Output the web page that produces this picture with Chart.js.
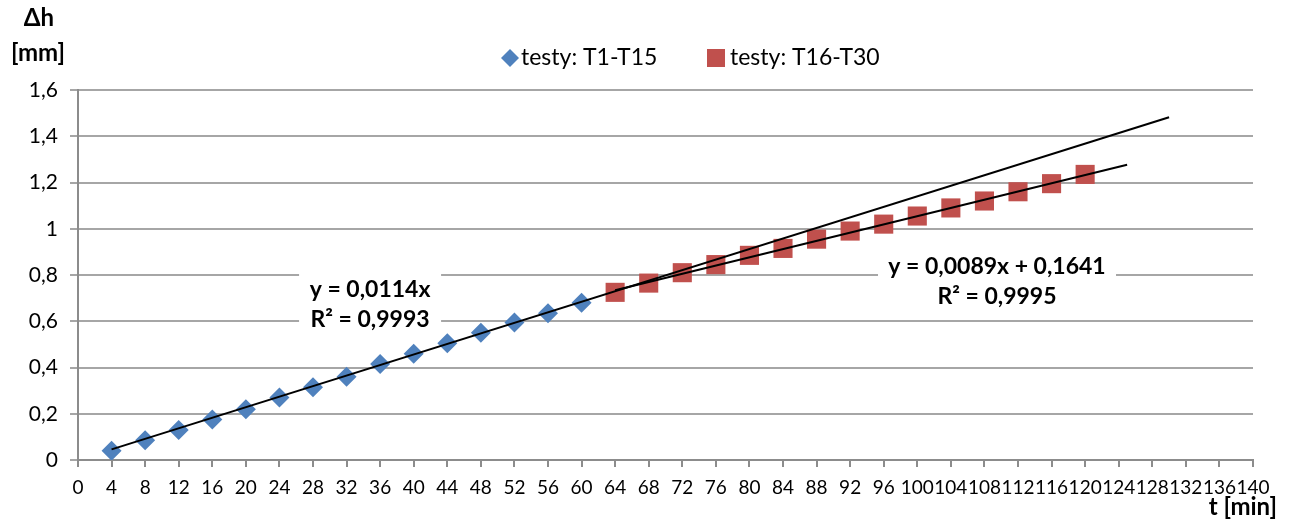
<!DOCTYPE html>
<html>
<head>
<meta charset="utf-8">
<script src="https://cdn.jsdelivr.net/npm/chart.js@4/dist/chart.umd.min.js"></script>
<style>
html, body { margin: 0; padding: 0; background: #fff; }
#wrap { width: 1291px; height: 519px; }
</style>
</head>
<body>
<div id="wrap"><canvas id="chart"></canvas></div>
<script>
const timesA = [4, 8, 12, 16, 20, 24, 28, 32, 36, 40, 44, 48, 52, 56, 60];
const heightsA = [0.04, 0.085, 0.13, 0.175, 0.22, 0.27, 0.315, 0.36, 0.415, 0.46, 0.505, 0.55, 0.595, 0.635, 0.68];
const timesB = [64, 68, 72, 76, 80, 84, 88, 92, 96, 100, 104, 108, 112, 116, 120];
const heightsB = [0.725, 0.765, 0.81, 0.845, 0.885, 0.915, 0.955, 0.99, 1.02, 1.055, 1.09, 1.12, 1.16, 1.195, 1.235];

// trendline end points
const trendTimesA = [4, 130];
const trendHeightsA = [0.046, 1.482];
const trendTimesB = [64, 125];
const trendHeightsB = [0.734, 1.277];

const labelsA = ["testy: T1-T15", "testy: T16-T30"];
const eqA = ["y = 0,0114x", "R² = 0,9993"];
const eqB = ["y = 0,0089x + 0,1641", "R² = 0,9995"];

const FONT = "Lato, 'Open Sans', sans-serif";
const BLUE = "#4f81bd";
const RED = "#c0504d";

function toPoints(xs, ys) {
    return xs.map((x, i) => ({ x: x, y: ys[i] }));
}

// Draws legend, axis titles and the trendline equation boxes
const extras = {
    id: "extras",
    beforeDatasetsDraw(chart) {
        const ctx = chart.ctx;
        const xs = chart.scales.x, ys = chart.scales.y;
        const boxes = [
            { lines: eqA, x: 34.8, y: 0.672, w: 142, h: 68 },
            { lines: eqB, x: 109.5, y: 0.77, w: 238, h: 60 }
        ];
        ctx.save();
        boxes.forEach(b => {
            const cx = xs.getPixelForValue(b.x);
            const cy = ys.getPixelForValue(b.y);
            ctx.fillStyle = "#fff";
            ctx.fillRect(cx - b.w / 2, cy - b.h / 2, b.w, b.h);
            ctx.fillStyle = "#000";
            ctx.font = "bold 23px " + FONT;
            ctx.textAlign = "center";
            ctx.textBaseline = "middle";
            ctx.fillText(b.lines[0], cx, cy - 15);
            ctx.fillText(b.lines[1], cx, cy + 15);
        });
        ctx.restore();
    },
    afterDraw(chart) {
        const ctx = chart.ctx;
        ctx.save();
        ctx.fillStyle = "#000";
        ctx.textBaseline = "middle";

        // axis titles
        ctx.font = "bold 24px " + FONT;
        ctx.textAlign = "center";
        ctx.fillText("Δh", 39, 18);
        ctx.fillText("[mm]", 38, 53);
        ctx.textAlign = "right";
        ctx.fillText("t [min]", 1277, 507);

        // legend
        ctx.font = "23px " + FONT;
        ctx.textAlign = "left";
        ctx.fillStyle = BLUE;
        ctx.beginPath();
        ctx.moveTo(510, 49); ctx.lineTo(519, 58); ctx.lineTo(510, 67); ctx.lineTo(501, 58);
        ctx.closePath();
        ctx.fill();
        ctx.fillStyle = "#000";
        ctx.fillText(labelsA[0], 521, 58);
        ctx.fillStyle = RED;
        ctx.fillRect(707, 49, 18, 18);
        ctx.fillStyle = "#000";
        ctx.fillText(labelsA[1], 730, 58);
        ctx.restore();
    }
};

let ctx = document.getElementById("chart").getContext("2d");

new Chart(ctx, {
    type: "scatter",
    data: {
        datasets: [
            {
                label: labelsA[0],
                data: toPoints(timesA, heightsA),
                pointStyle: "rectRot",
                pointRadius: 10,
                pointHoverRadius: 10,
                backgroundColor: BLUE,
                borderColor: BLUE,
                borderWidth: 0,
                order: 2
            },
            {
                label: labelsA[1],
                data: toPoints(timesB, heightsB),
                pointStyle: "rect",
                pointRadius: 13.5,
                pointHoverRadius: 13.5,
                backgroundColor: RED,
                borderColor: RED,
                borderWidth: 0,
                order: 2
            },
            {
                label: "trend A",
                data: toPoints(trendTimesA, trendHeightsA),
                showLine: true,
                pointRadius: 0,
                borderColor: "#000",
                borderWidth: 2,
                order: 1
            },
            {
                label: "trend B",
                data: toPoints(trendTimesB, trendHeightsB),
                showLine: true,
                pointRadius: 0,
                borderColor: "#000",
                borderWidth: 2,
                order: 1
            }
        ]
    },
    options: {
        responsive: true,
        maintainAspectRatio: false,
        animation: false,
        layout: { padding: { top: 90, right: 38, left: 0, bottom: 0 } },
        plugins: {
            legend: { display: false },
            tooltip: { enabled: false }
        },
        scales: {
            x: {
                type: "linear",
                min: 0,
                max: 140,
                afterFit: s => { s.height = 59; },
                grid: { display: true, drawOnChartArea: false, drawTicks: true, tickLength: 7, color: "#8c8c8c", lineWidth: 2 },
                border: { display: true, color: "#8c8c8c", width: 2 },
                ticks: {
                    stepSize: 4,
                    autoSkip: false,
                    maxRotation: 0,
                    minRotation: 0,
                    padding: 9,
                    color: "#000",
                    font: { family: FONT, size: 19 }
                }
            },
            y: {
                min: 0,
                max: 1.6,
                afterFit: s => { s.width = 78; },
                grid: { color: "#a6a6a6", lineWidth: 2, tickLength: 8 },
                border: { display: true, color: "#8c8c8c", width: 2 },
                ticks: {
                    stepSize: 0.2,
                    padding: 12,
                    color: "#000",
                    font: { family: FONT, size: 21 },
                    callback: v => {
                        const r = Math.round(v * 10) / 10;
                        return Number.isInteger(r) ? String(r) : r.toFixed(1).replace(".", ",");
                    }
                }
            }
        }
    },
    plugins: [extras]
});
</script>
</body>
</html>
